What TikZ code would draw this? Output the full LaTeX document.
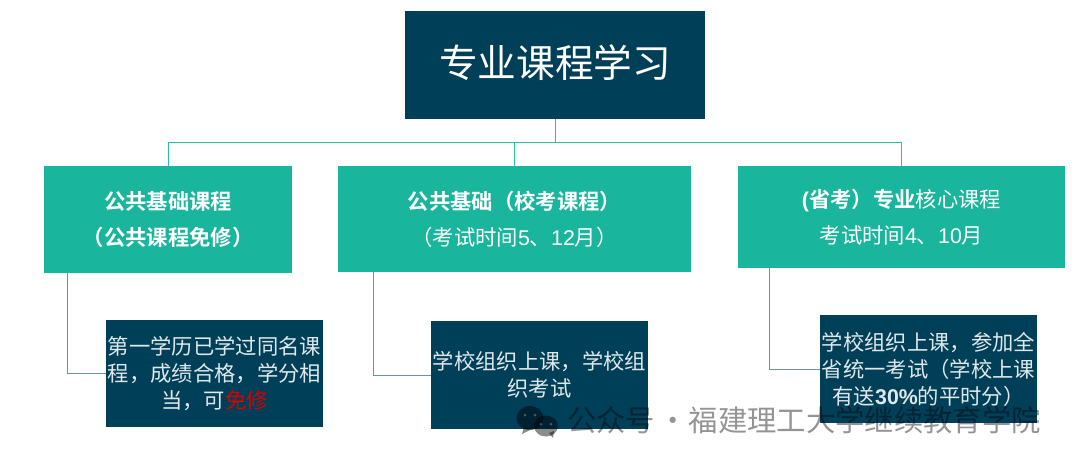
\documentclass[tikz,border=0pt]{standalone}
\usepackage{xcolor}
\usepackage{fontspec}
\setmainfont{Noto Sans CJK SC}[BoldFont={Noto Sans CJK SC Bold}]
\newfontfamily\latfont{Liberation Sans}
\usetikzlibrary{positioning,calc}
\definecolor{darkbox}{HTML}{003F58}
\definecolor{tealbox}{HTML}{1AB59D}
\definecolor{tealline}{HTML}{27C0AC}
\definecolor{slateline}{HTML}{6E929F}
\tikzset{
  titlebox/.style={fill=darkbox, text=white, inner sep=0pt, font=\fontsize{29}{34}\selectfont},
  coursebox/.style={fill=tealbox, text=white, inner sep=0pt, align=center, font=\fontsize{16}{27}\selectfont},
  notebox/.style={fill=darkbox, text=white!88!darkbox, inner sep=0pt, align=center, font=\fontsize{16}{20.2}\selectfont},
  busline/.style={tealline, line width=0.75pt},
  elbowline/.style={slateline, line width=0.75pt},
  markfill/.style={fill=black, opacity=0.45},
}
\newcommand{\lat}[1]{{\latfont #1}}

\begin{document}
\begin{tikzpicture}[x=0.75pt, y=-0.75pt]
    \useasboundingbox (0,0) rectangle (1080,462);

    % Top box
    \node[titlebox, minimum width=225pt, minimum height=81pt] (main) at (555,65)
        {\raisebox{0pt}[\height][\dimexpr\depth+3pt]{专业课程学习}};

    % Course boxes
    \node[coursebox, minimum width=186pt, minimum height=80.25pt] (pubfree) at (168,219.5)
        {\textbf{公共基础课程}\\\textbf{（公共课程免修）}};
    \node[coursebox, minimum width=264.75pt, minimum height=79.5pt] (pubschool) at (514.5,219)
        {\textbf{公共基础（校考课程）}\\（考试时间\lat{5}、\lat{12}月）};
    \node[coursebox, minimum width=245.25pt, minimum height=76.5pt] (core) at (901.5,217)
        {\lat{\textbf{(}}\textbf{省考）专业}核心课程\\考试时间\lat{4}、\lat{10}月};

    % Note boxes
    \node[notebox, minimum width=162.75pt, minimum height=80.25pt] (notefree) at (214.5,373.5)
        {第一学历已学过同名课\\程，成绩合格，学分相\\当，可\textcolor{red!85!black}{免修}};
    \node[notebox, minimum width=162.75pt, minimum height=81pt] (noteschool) at (539.5,375)
        {学校组织上课，学校组\\织考试};
    \node[notebox, minimum width=162.75pt, minimum height=81pt] (notecore) at (928.5,369)
        {学校组织上课，参加全\\省统一考试（学校上课\\有送\lat{\textbf{30\%}}的平时分）};

    % Bus under the top box
    \coordinate (busmid) at (main.south |- 0,142);
    \draw[busline] (main.south) -- (busmid);
    \draw[busline] (pubfree.north |- busmid) -- (core.north |- busmid);
    \foreach \n in {pubfree,pubschool,core} \draw[busline] (\n.north |- busmid) -- (\n.north);

    % Elbows to the notes
    \draw[elbowline] ($(pubfree.south west)+(24,0)$) |- (notefree.west);
    \draw[elbowline] ($(pubschool.south west)+(36,0)$) |- (noteschool.west);
    \draw[elbowline] ($(core.south west)+(32,0)$) |- (notecore.west);

    % Watermark
    \fill[markfill] (530,418) ellipse (13.5 and 12);
    \fill[markfill] (524,427) -- (522,434) -- (532,429) -- cycle;
    \fill[markfill] (546,426) ellipse (12 and 10.5);
    \fill[markfill] (549,433) -- (553,438) -- (554,431) -- cycle;
    \foreach \x/\y in {525/415,535/415,541/424,551/424} \fill[white, opacity=0.25] (\x,\y) circle (1.5);
    \node[anchor=west, inner sep=0pt, text=black, opacity=0.42, font=\fontsize{22}{26}\selectfont] (mark) at (567,420)
        {公众号\hspace{0.1em}·\hspace{0.04em}福建理工大学继续教育学院};
\end{tikzpicture}
\end{document}
